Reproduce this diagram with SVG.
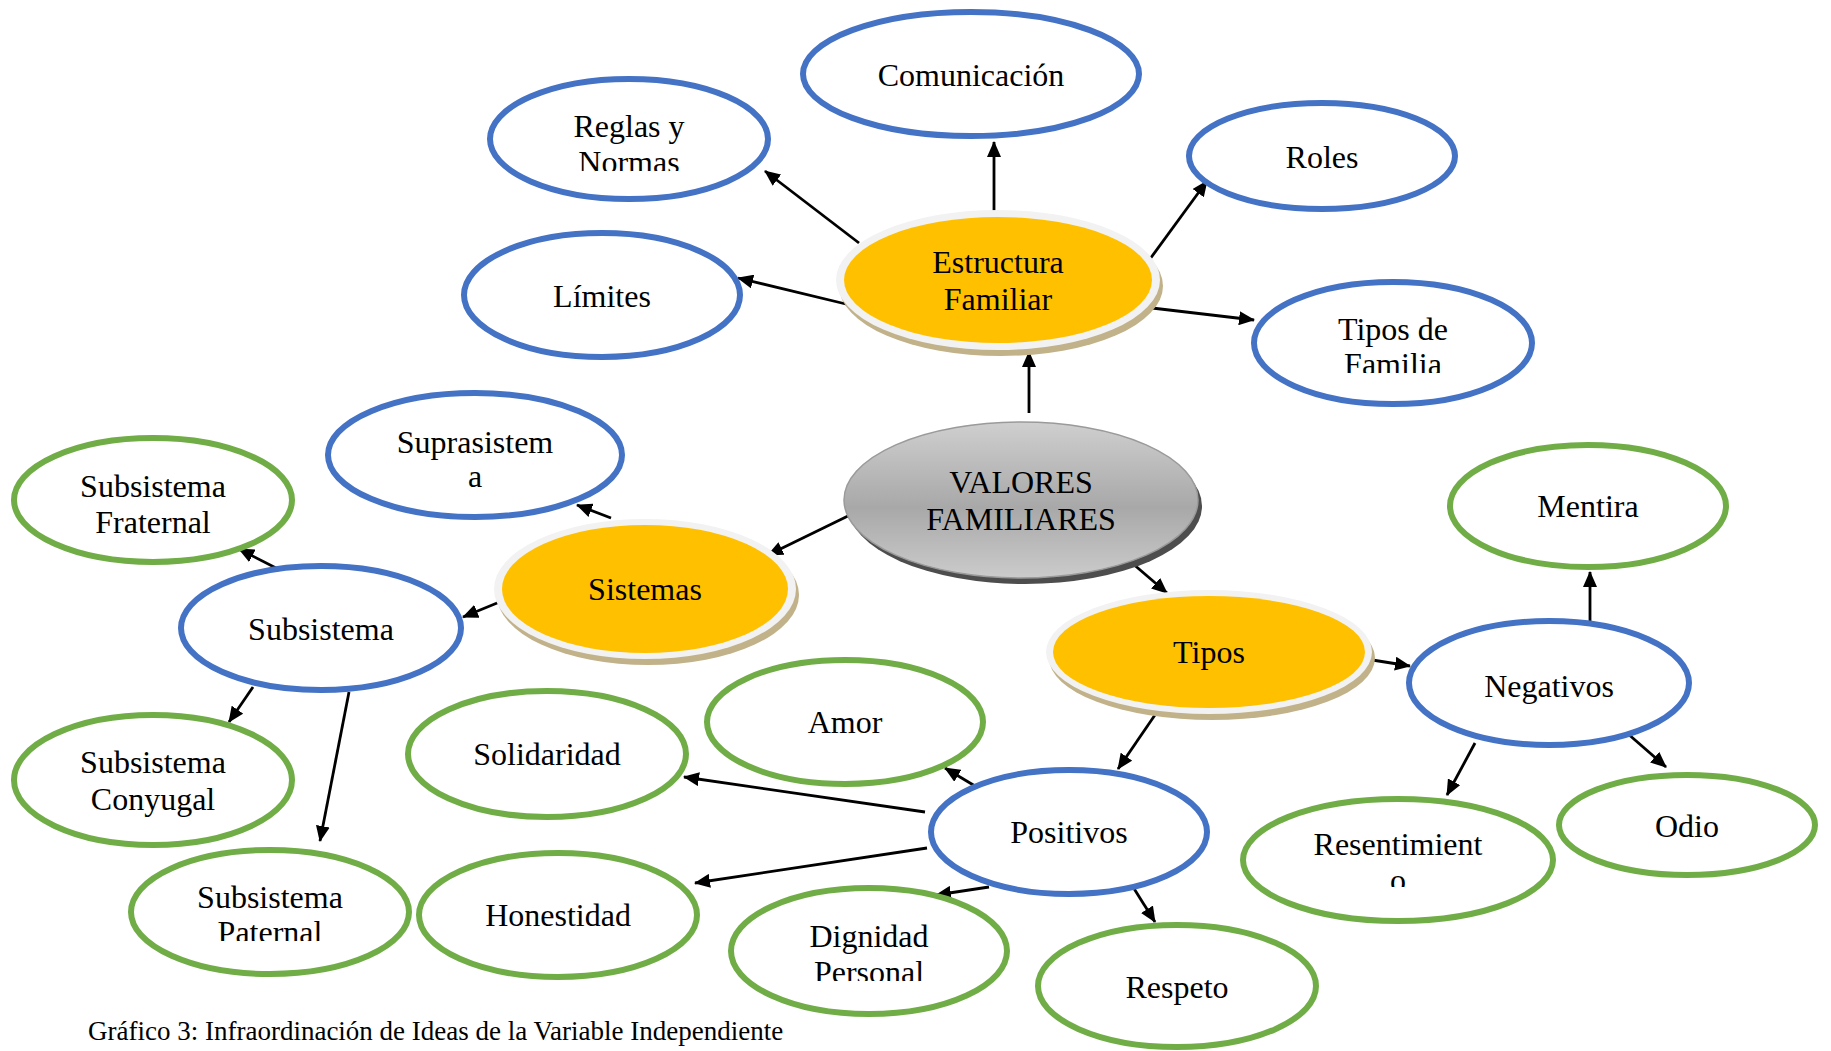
<svg xmlns="http://www.w3.org/2000/svg" width="1831" height="1051" viewBox="0 0 1831 1051">
<defs>
<style>
.blue{fill:#fff;stroke:#4472C4;stroke-width:6}
.green{fill:#fff;stroke:#70AD47;stroke-width:6}
.ring{fill:#F2F2F2}
.shad{fill:#C2B28A}
.yel{fill:#FFC000}
text{font-family:"Liberation Serif","Times New Roman",serif;font-size:32px;fill:#000;text-anchor:middle}
.cap{font-size:27px;text-anchor:start}
.conn line{stroke:#000;stroke-width:2.8;marker-end:url(#arr)}
</style>
<marker id="arr" viewBox="0 0 16 14" refX="15" refY="7" markerWidth="16" markerHeight="14" markerUnits="userSpaceOnUse" orient="auto">
<path d="M0,0 L16,7 L0,14 z" fill="#000"/>
</marker>
<linearGradient id="gray" x1="0" y1="0" x2="0" y2="1">
<stop offset="0" stop-color="#CFCFCF"/>
<stop offset="0.55" stop-color="#A8A8A8"/>
<stop offset="1" stop-color="#CBCBCB"/>
</linearGradient>
<clipPath id="cReg"><rect x="480" y="60" width="300" height="111"/></clipPath>
<clipPath id="cTip"><rect x="1240" y="270" width="300" height="103"/></clipPath>
<clipPath id="cPat"><rect x="120" y="840" width="300" height="101"/></clipPath>
<clipPath id="cDig"><rect x="720" y="880" width="300" height="101"/></clipPath>
<clipPath id="cRes"><rect x="1230" y="790" width="330" height="97"/></clipPath>
</defs>
<rect width="1831" height="1051" fill="#fff"/>

<g class="conn">
<line x1="994" y1="215" x2="994" y2="142"/>
<line x1="859" y1="243" x2="765" y2="171"/>
<line x1="850" y1="305" x2="738" y2="278"/>
<line x1="1150" y1="259" x2="1207" y2="181"/>
<line x1="1152" y1="308" x2="1254" y2="320"/>
<line x1="1029" y1="413" x2="1029" y2="352"/>
<line x1="850" y1="515" x2="768" y2="555"/>
<line x1="611" y1="518" x2="577" y2="505"/>
<line x1="502" y1="601" x2="463" y2="617"/>
<line x1="276" y1="568" x2="239" y2="549"/>
<line x1="253" y1="687" x2="229" y2="722"/>
<line x1="349" y1="692" x2="320" y2="841"/>
<line x1="1132" y1="563" x2="1167" y2="593"/>
<line x1="1366" y1="659" x2="1410" y2="666"/>
<line x1="1590" y1="621" x2="1590" y2="572"/>
<line x1="1475" y1="743" x2="1447" y2="795"/>
<line x1="1627" y1="733" x2="1666" y2="767"/>
<line x1="1157" y1="712" x2="1118" y2="769"/>
<line x1="975" y1="786" x2="945" y2="768"/>
<line x1="925" y1="812" x2="684" y2="777"/>
<line x1="927" y1="848" x2="695" y2="883"/>
<line x1="989" y1="887" x2="936" y2="895"/>
<line x1="1133" y1="887" x2="1155" y2="922"/>
</g>

<g id="comunicacion"><ellipse class="blue" cx="971" cy="74" rx="168" ry="62"/><text x="971" y="86">Comunicación</text></g>
<g id="reglas"><ellipse class="blue" cx="629" cy="139" rx="139" ry="60"/><text clip-path="url(#cReg)"><tspan x="629" y="137">Reglas y</tspan><tspan x="629" y="173">Normas</tspan></text></g>
<g id="roles"><ellipse class="blue" cx="1322" cy="156" rx="133" ry="53"/><text x="1322" y="168">Roles</text></g>
<g id="limites"><ellipse class="blue" cx="602" cy="295" rx="138" ry="62"/><text x="602" y="307">Límites</text></g>
<g id="tiposfamilia"><ellipse class="blue" cx="1393" cy="343" rx="139" ry="61"/><text clip-path="url(#cTip)"><tspan x="1393" y="340">Tipos de</tspan><tspan x="1393" y="375">Familia</tspan></text></g>
<g id="estructura"><ellipse class="shad" cx="1001" cy="286" rx="162" ry="70"/><ellipse class="ring" cx="998" cy="280" rx="162" ry="70"/><ellipse class="yel" cx="998" cy="280" rx="154" ry="63"/><text><tspan x="998" y="273">Estructura</tspan><tspan x="998" y="310">Familiar</tspan></text></g>
<g id="suprasistema"><ellipse class="blue" cx="475" cy="455" rx="147" ry="62"/><text><tspan x="475" y="453">Suprasistem</tspan><tspan x="475" y="487">a</tspan></text></g>
<g id="valores"><ellipse cx="1025" cy="506" rx="177" ry="78" fill="#4D4D4D"/><ellipse cx="1021" cy="500" rx="177" ry="78" fill="url(#gray)" stroke="#9A9A9A" stroke-width="1.5"/><text><tspan x="1021" y="493">VALORES</tspan><tspan x="1021" y="530">FAMILIARES</tspan></text></g>
<g id="fraternal"><ellipse class="green" cx="153" cy="500" rx="139" ry="62"/><text><tspan x="153" y="497">Subsistema</tspan><tspan x="153" y="533">Fraternal</tspan></text></g>
<g id="sistemas"><ellipse class="shad" cx="648" cy="595" rx="151" ry="70"/><ellipse class="ring" cx="645" cy="589" rx="151" ry="70"/><ellipse class="yel" cx="645" cy="589" rx="143" ry="64"/><text x="645" y="600">Sistemas</text></g>
<g id="mentira"><ellipse class="green" cx="1588" cy="506" rx="138" ry="61"/><text x="1588" y="517">Mentira</text></g>
<g id="subsistema"><ellipse class="blue" cx="321" cy="628" rx="140" ry="62"/><text x="321" y="640">Subsistema</text></g>
<g id="tipos"><ellipse class="shad" cx="1212" cy="658" rx="163" ry="62"/><ellipse class="ring" cx="1209" cy="652" rx="163" ry="62"/><ellipse class="yel" cx="1209" cy="652" rx="156" ry="56"/><text x="1209" y="663">Tipos</text></g>
<g id="negativos"><ellipse class="blue" cx="1549" cy="683" rx="140" ry="62"/><text x="1549" y="697">Negativos</text></g>
<g id="amor"><ellipse class="green" cx="845" cy="722" rx="138" ry="62"/><text x="845" y="733">Amor</text></g>
<g id="solidaridad"><ellipse class="green" cx="547" cy="754" rx="139" ry="63"/><text x="547" y="765">Solidaridad</text></g>
<g id="conyugal"><ellipse class="green" cx="153" cy="780" rx="139" ry="65"/><text><tspan x="153" y="773">Subsistema</tspan><tspan x="153" y="810">Conyugal</tspan></text></g>
<g id="positivos"><ellipse class="blue" cx="1069" cy="832" rx="138" ry="62"/><text x="1069" y="843">Positivos</text></g>
<g id="resentimiento"><ellipse class="green" cx="1398" cy="860" rx="155" ry="61"/><text clip-path="url(#cRes)"><tspan x="1398" y="855">Resentimient</tspan><tspan x="1398" y="891">o</tspan></text></g>
<g id="odio"><ellipse class="green" cx="1687" cy="825" rx="128" ry="50"/><text x="1687" y="837">Odio</text></g>
<g id="paternal"><ellipse class="green" cx="270" cy="912" rx="139" ry="62"/><text clip-path="url(#cPat)"><tspan x="270" y="908">Subsistema</tspan><tspan x="270" y="943">Paternal</tspan></text></g>
<g id="honestidad"><ellipse class="green" cx="558" cy="915" rx="139" ry="62"/><text x="558" y="926">Honestidad</text></g>
<g id="dignidad"><ellipse class="green" cx="869" cy="951" rx="138" ry="63"/><text clip-path="url(#cDig)"><tspan x="869" y="947">Dignidad</tspan><tspan x="869" y="983">Personal</tspan></text></g>
<g id="respeto"><ellipse class="green" cx="1177" cy="986" rx="139" ry="61"/><text x="1177" y="998">Respeto</text></g>

<text class="cap" x="88" y="1040">Gráfico 3: Infraordinación de Ideas de la Variable Independiente</text>
</svg>
